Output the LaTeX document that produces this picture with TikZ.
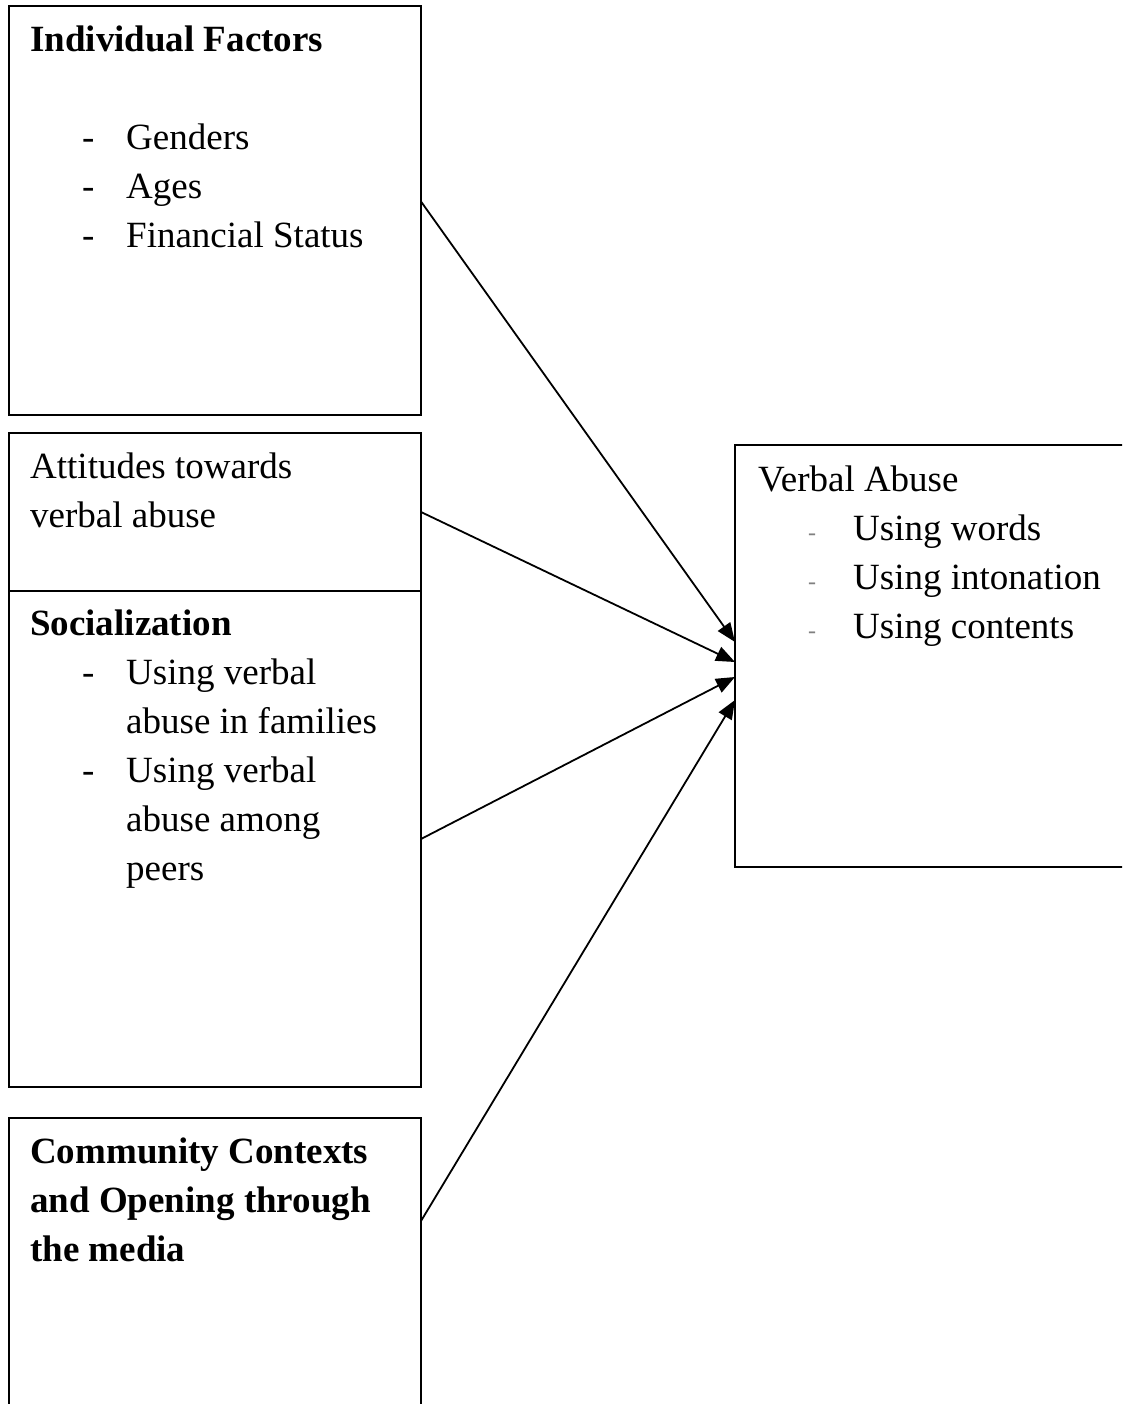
\documentclass[tikz,border=0pt]{standalone}
\usepackage{fontspec}
\setmainfont{Liberation Serif}
\usetikzlibrary{arrows.meta,positioning}

\newcommand{\dashline}[1]{\par\hspace*{52pt}\makebox[44pt][l]{-}#1}
\newcommand{\moreline}[1]{\par\hspace*{96pt}#1}
\newcommand{\greyline}[1]{\par\hspace*{50pt}\makebox[45pt][l]{\color{gray}\fontsize{24}{49}\selectfont -}#1}
\newcommand{\blocktext}[1]{\parbox[t]{420pt}{\fontsize{37}{49}\selectfont #1}}

\begin{document}
\begin{tikzpicture}[
  x=1pt, y=-1pt,
  box/.style={draw, line width=2pt, inner sep=0pt, outer sep=0pt, anchor=north west, minimum width=412pt},
  txt/.style={anchor=base west, inner sep=0pt},
  arr/.style={-{Triangle[length=19pt,width=15pt]}, line width=1.8pt}
]
\path[use as bounding box, clip] (0,0) rectangle (1122,1404);
\node[box, minimum height=409pt] (indiv) at (9,6) {};
\node[box, minimum height=158pt] (attit) at (9,433) {};
\node[box, minimum height=496pt] (social) at (9,591) {};
\node[box, minimum height=400pt] (commun) at (9,1118) {};
\node[box, minimum width=450pt, minimum height=422pt] (verbal) at (735,445) {};
\node[txt] (indivt) at (30,52) {\blocktext{\textbf{Individual Factors}\par\mbox{}\dashline{Genders}\dashline{Ages}\dashline{Financial Status}}};
\node[txt] (attitt) at (30,478) {\blocktext{Attitudes towards\par verbal abuse}};
\node[txt] (socialt) at (30,635) {\blocktext{\textbf{Socialization}\dashline{Using verbal}\moreline{abuse in families}\dashline{Using verbal}\moreline{abuse among}\moreline{peers}}};
\node[txt] (communt) at (30,1163) {\blocktext{\textbf{Community Contexts}\par\textbf{and Opening through}\par\textbf{the media}}};
\node[txt] (verbalt) at (758,491) {\blocktext{Verbal Abuse\greyline{Using words}\greyline{Using intonation}\greyline{Using contents}}};
\draw[arr] ([yshift=9pt]indiv.east) -- ([yshift=14pt]verbal.west);
\draw[arr] (attit.east) -- ([yshift=-6pt]verbal.west);
\draw[arr] (social.east) -- ([yshift=-21pt]verbal.west);
\draw[arr] ([yshift=-103pt]commun.north east) -- ([yshift=-44pt]verbal.west);
\end{tikzpicture}
\end{document}
